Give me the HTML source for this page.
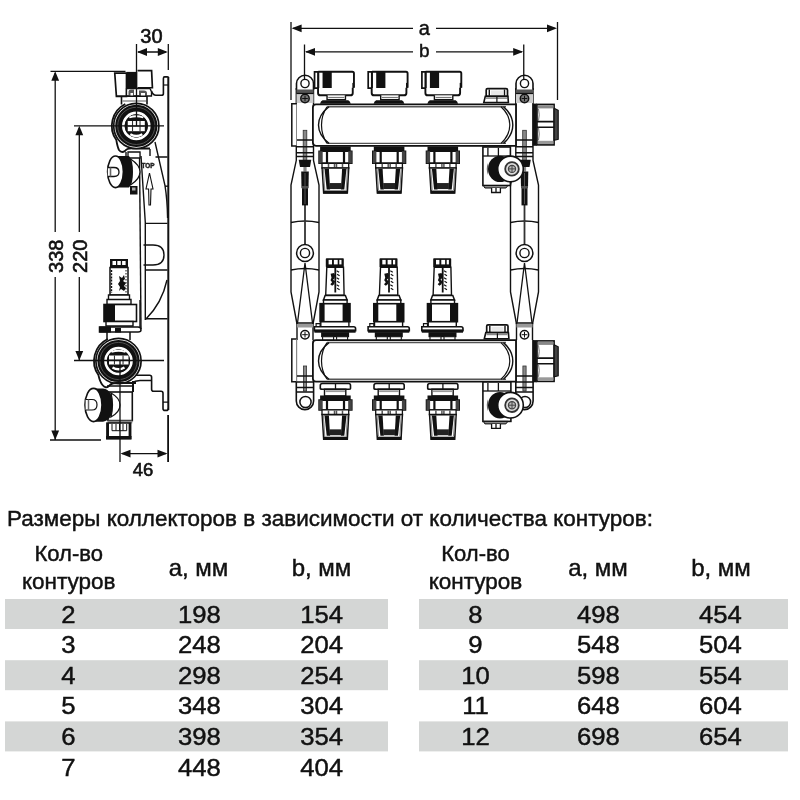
<!DOCTYPE html>
<html><head><meta charset="utf-8"><style>
html,body{margin:0;padding:0;background:#fff;}
svg{display:block;} text{stroke:#111;stroke-width:0.45px;}
</style></head><body>
<svg style="will-change:transform" width="800" height="800" viewBox="0 0 800 800">
<rect width="800" height="800" fill="#fff"/>
<rect x="5" y="599.0" width="383" height="30" fill="#d4d6d5"/>
<rect x="419" y="599.0" width="369" height="30" fill="#d4d6d5"/>
<rect x="5" y="660.2" width="383" height="30" fill="#d4d6d5"/>
<rect x="419" y="660.2" width="369" height="30" fill="#d4d6d5"/>
<rect x="5" y="721.4" width="383" height="30" fill="#d4d6d5"/>
<rect x="419" y="721.4" width="369" height="30" fill="#d4d6d5"/>
<g font-family="Liberation Sans" fill="#111">
<text x="7" y="526" font-size="22.5" textLength="646" lengthAdjust="spacingAndGlyphs">Размеры коллекторов в зависимости от количества контуров:</text>
<text x="68.7" y="561" font-size="22" text-anchor="middle">Кол-во</text>
<text x="68.7" y="589.4" font-size="22.5" text-anchor="middle">контуров</text>
<text x="198.5" y="575.8" font-size="24" text-anchor="middle">a, мм</text>
<text x="321.5" y="575.8" font-size="24" text-anchor="middle">b, мм</text>
<text x="475.5" y="561" font-size="22" text-anchor="middle">Кол-во</text>
<text x="475.5" y="589.4" font-size="22.5" text-anchor="middle">контуров</text>
<text x="598" y="575.8" font-size="24" text-anchor="middle">a, мм</text>
<text x="721" y="575.8" font-size="24" text-anchor="middle">b, мм</text>
<text x="68.5" y="622.6" font-size="24" text-anchor="middle" transform="translate(68.5 0) scale(1.07 1) translate(-68.5 0)">2</text>
<text x="199.4" y="622.6" font-size="24" text-anchor="middle" transform="translate(199.4 0) scale(1.07 1) translate(-199.4 0)">198</text>
<text x="321.6" y="622.6" font-size="24" text-anchor="middle" transform="translate(321.6 0) scale(1.07 1) translate(-321.6 0)">154</text>
<text x="68.5" y="653.2" font-size="24" text-anchor="middle" transform="translate(68.5 0) scale(1.07 1) translate(-68.5 0)">3</text>
<text x="199.4" y="653.2" font-size="24" text-anchor="middle" transform="translate(199.4 0) scale(1.07 1) translate(-199.4 0)">248</text>
<text x="321.6" y="653.2" font-size="24" text-anchor="middle" transform="translate(321.6 0) scale(1.07 1) translate(-321.6 0)">204</text>
<text x="68.5" y="683.8" font-size="24" text-anchor="middle" transform="translate(68.5 0) scale(1.07 1) translate(-68.5 0)">4</text>
<text x="199.4" y="683.8" font-size="24" text-anchor="middle" transform="translate(199.4 0) scale(1.07 1) translate(-199.4 0)">298</text>
<text x="321.6" y="683.8" font-size="24" text-anchor="middle" transform="translate(321.6 0) scale(1.07 1) translate(-321.6 0)">254</text>
<text x="68.5" y="714.4" font-size="24" text-anchor="middle" transform="translate(68.5 0) scale(1.07 1) translate(-68.5 0)">5</text>
<text x="199.4" y="714.4" font-size="24" text-anchor="middle" transform="translate(199.4 0) scale(1.07 1) translate(-199.4 0)">348</text>
<text x="321.6" y="714.4" font-size="24" text-anchor="middle" transform="translate(321.6 0) scale(1.07 1) translate(-321.6 0)">304</text>
<text x="68.5" y="745.0" font-size="24" text-anchor="middle" transform="translate(68.5 0) scale(1.07 1) translate(-68.5 0)">6</text>
<text x="199.4" y="745.0" font-size="24" text-anchor="middle" transform="translate(199.4 0) scale(1.07 1) translate(-199.4 0)">398</text>
<text x="321.6" y="745.0" font-size="24" text-anchor="middle" transform="translate(321.6 0) scale(1.07 1) translate(-321.6 0)">354</text>
<text x="68.5" y="775.6" font-size="24" text-anchor="middle" transform="translate(68.5 0) scale(1.07 1) translate(-68.5 0)">7</text>
<text x="199.4" y="775.6" font-size="24" text-anchor="middle" transform="translate(199.4 0) scale(1.07 1) translate(-199.4 0)">448</text>
<text x="321.6" y="775.6" font-size="24" text-anchor="middle" transform="translate(321.6 0) scale(1.07 1) translate(-321.6 0)">404</text>
<text x="475.5" y="622.6" font-size="24" text-anchor="middle" transform="translate(475.5 0) scale(1.07 1) translate(-475.5 0)">8</text>
<text x="598.3" y="622.6" font-size="24" text-anchor="middle" transform="translate(598.3 0) scale(1.07 1) translate(-598.3 0)">498</text>
<text x="720.4" y="622.6" font-size="24" text-anchor="middle" transform="translate(720.4 0) scale(1.07 1) translate(-720.4 0)">454</text>
<text x="475.5" y="653.2" font-size="24" text-anchor="middle" transform="translate(475.5 0) scale(1.07 1) translate(-475.5 0)">9</text>
<text x="598.3" y="653.2" font-size="24" text-anchor="middle" transform="translate(598.3 0) scale(1.07 1) translate(-598.3 0)">548</text>
<text x="720.4" y="653.2" font-size="24" text-anchor="middle" transform="translate(720.4 0) scale(1.07 1) translate(-720.4 0)">504</text>
<text x="475.5" y="683.8" font-size="24" text-anchor="middle" transform="translate(475.5 0) scale(1.07 1) translate(-475.5 0)">10</text>
<text x="598.3" y="683.8" font-size="24" text-anchor="middle" transform="translate(598.3 0) scale(1.07 1) translate(-598.3 0)">598</text>
<text x="720.4" y="683.8" font-size="24" text-anchor="middle" transform="translate(720.4 0) scale(1.07 1) translate(-720.4 0)">554</text>
<text x="475.5" y="714.4" font-size="24" text-anchor="middle" transform="translate(475.5 0) scale(1.07 1) translate(-475.5 0)">11</text>
<text x="598.3" y="714.4" font-size="24" text-anchor="middle" transform="translate(598.3 0) scale(1.07 1) translate(-598.3 0)">648</text>
<text x="720.4" y="714.4" font-size="24" text-anchor="middle" transform="translate(720.4 0) scale(1.07 1) translate(-720.4 0)">604</text>
<text x="475.5" y="745.0" font-size="24" text-anchor="middle" transform="translate(475.5 0) scale(1.07 1) translate(-475.5 0)">12</text>
<text x="598.3" y="745.0" font-size="24" text-anchor="middle" transform="translate(598.3 0) scale(1.07 1) translate(-598.3 0)">698</text>
<text x="720.4" y="745.0" font-size="24" text-anchor="middle" transform="translate(720.4 0) scale(1.07 1) translate(-720.4 0)">654</text>
</g>
<g stroke="#111" fill="none" stroke-width="2">
<path d="M168.3 77V410"/>
</g>
<path d="M168.3 77.5Q168.3 76.9 167 76.9H164.6Q163.4 76.9 163.4 78.5V93.5Q163.4 95.3 161.5 95.3H156Q153 95.3 151.5 91" fill="none" stroke="#111" stroke-width="1.6"/>
<path d="M163.4 85H168.3" stroke="#111" stroke-width="1.2"/>
<g stroke="#111" fill="none" stroke-width="1.4">
<path d="M155 142L165 185.7Q167.3 200 167.6 218"/>
<path d="M139.5 152L141 329"/>
<path d="M141 156L145.3 222.5V320"/>
<path d="M165 186.2H168"/>
<path d="M155.5 157H167.5 M145.3 223.4H167.5 M145 270H167.5 M145 318.75H167.5"/>
<path d="M143.5 245H153Q164 245 164 255Q164 265 153 265H143.5"/>
<path d="M167 280Q162 303 146 319"/>
<path d="M136 375.3H149.6Q151.6 375.3 151.6 377.3V389.3Q151.6 391.3 153.6 391.3H161Q163 391.3 163 393.3V408.4Q163 410.4 165 410.4H166.3Q168.3 410.4 168.3 408.4" stroke-width="1.6"/>
<path d="M131 383.5Q135 380.5 140 380.5H151.6 M163 402.1H168.3" stroke-width="1.3"/>
<path d="M168.3 415V462"/>
<path d="M140 300V330 M131 330H140"/>
</g>
<path d="M149.5 173L146 189H148.6L149 205H150.5L151 189H153Z" fill="#fff" stroke="#111" stroke-width="1.1"/>
<text x="148" y="168" font-family="Liberation Sans" font-size="7" font-weight="bold" text-anchor="middle" fill="#333" textLength="13" lengthAdjust="spacingAndGlyphs">TOP</text>
<path d="M114.75 73.1H126.5V96.3H116.4Z" fill="#fff" stroke="#111" stroke-width="1.7"/>
<rect x="126.5" y="71.9" width="11" height="16.7" fill="#111"/>
<path d="M137.5 70.7H151.6L152.4 87.75H137.5" fill="#fff" stroke="#111" stroke-width="1.7"/>
<path d="M126.5 88.6H150Q152 91 151.5 96H126.5Z" fill="#fff" stroke="#111" stroke-width="1.3"/>
<path d="M128.5 96V91.5Q128.5 89.5 131 89.5H134V96Z M139 96V90.5H144Q147 90.5 147 93V96Z" fill="#555"/>
<path d="M130.5 96V93H133V96Z M141 96V93H145V96Z" fill="#fff"/>
<path d="M121.5 96.3V104.5 M147 96V104.5 M116.4 96.3H147" fill="none" stroke="#111" stroke-width="1.6"/>
<path d="M122.5 101H146" fill="none" stroke="#777" stroke-width="1.2"/>
<path d="M125.3 104A24.5 24.5 0 0 0 116.3 140Q117.5 147 119 150Q121.5 153.5 125 151Q127 148 133 148.5H150" fill="none" stroke="#111" stroke-width="1.8"/>
<path d="M126 152V157 M150 149V156" fill="none" stroke="#111" stroke-width="1.4"/>
<circle cx="136.3" cy="125.9" r="22.6" fill="#fff" stroke="#111" stroke-width="1.7"/>
<circle cx="136.3" cy="125.9" r="17.7" fill="none" stroke="#111" stroke-width="6.8"/>
<circle cx="136.3" cy="125.9" r="18.6" fill="none" stroke="#555" stroke-width="0.9"/>
<circle cx="136.3" cy="125.9" r="12.4" fill="#111" stroke="#fff" stroke-width="1.6"/>
<circle cx="136.3" cy="125.9" r="11.2" fill="none" stroke="#111" stroke-width="0.8"/>
<rect x="127.75" y="121" width="17.05000000000001" height="10.199999999999989" fill="#fff"/>
<path d="M132.524 121V131.2 M140.026 121V131.2 M127.75 126.1H144.8" stroke="#333" stroke-width="1.1"/>
<path d="M129.3 117.5Q136.3 115 143.3 117.5" stroke="#fff" stroke-width="1.8" fill="none"/>
<path d="M130.3 134.2Q136.3 137.7 142.3 134.2" stroke="#fff" stroke-width="2.4" fill="none"/>
<circle cx="118.5" cy="361" r="22.6" fill="#fff" stroke="#111" stroke-width="1.7"/>
<circle cx="118.5" cy="361" r="17.7" fill="none" stroke="#111" stroke-width="6.8"/>
<circle cx="118.5" cy="361" r="18.6" fill="none" stroke="#555" stroke-width="0.9"/>
<circle cx="118.5" cy="361" r="12.4" fill="#111" stroke="#fff" stroke-width="1.6"/>
<circle cx="118.5" cy="361" r="11.2" fill="none" stroke="#111" stroke-width="0.8"/>
<rect x="109" y="355.5" width="19.5" height="9.0" fill="#fff"/>
<path d="M114.46000000000001 355.5V364.5 M123.03999999999999 355.5V364.5 M109 360.0H128.5" stroke="#333" stroke-width="1.1"/>
<path d="M111.5 352.0Q118.5 349.5 125.5 352.0" stroke="#fff" stroke-width="1.8" fill="none"/>
<path d="M112.5 367.5Q118.5 371.0 124.5 367.5" stroke="#fff" stroke-width="2.4" fill="none"/>
<path d="M128 152H140V158H128Z" fill="#fff" stroke="#111" stroke-width="1.3"/>
<path d="M130.5 159Q140 165 140 172Q140 179 130.5 185" fill="#fff" stroke="#111" stroke-width="1.3"/>
<path d="M115.5 156H129Q133 160 133 172Q133 184 129 187.6H115.5Z" fill="#111"/>
<ellipse cx="115.5" cy="171.8" rx="7.9" ry="15.8" fill="#fff" stroke="#111" stroke-width="1.6"/>
<path d="M107.8 167.5H114Q119 167.5 119 172Q119 176.5 114 176.5H107.8" fill="#fff" stroke="#111" stroke-width="1.3"/>
<path d="M110.5 167.5V176.5" stroke="#666" stroke-width="1.6"/>
<rect x="130" y="186" width="7.5" height="8.5" fill="#111"/>
<rect x="132" y="187.5" width="3.5" height="3" fill="#aaa"/>
<rect x="110" y="259" width="18" height="8.5" fill="#111"/>
<rect x="112.5" y="261" width="3.5" height="4" fill="#fff"/><rect x="117.3" y="261" width="3.5" height="4" fill="#fff"/><rect x="122.1" y="261" width="3.5" height="4" fill="#fff"/>
<path d="M110 267.5H128V295H110Z" fill="#fff" stroke="#111" stroke-width="1.5"/>
<path d="M119 276l3 2l2 -3l1 4l-2 2l3 2l-2 3l2 2l-2 3l-3 -2l-2 2l1 -4l-2 -3l2 -3z" fill="#111"/>
<path d="M111.5 270V293" stroke="#111" stroke-width="1.4" stroke-dasharray="2 1.2"/>
<path d="M126 270V293" stroke="#111" stroke-width="1" stroke-dasharray="1.5 1.5"/>
<path d="M108.5 295H129.5V299.5H108.5Z M107 299.5H131V304.5H107Z" fill="#fff" stroke="#111" stroke-width="1.4"/>
<rect x="104" y="304.5" width="32.5" height="17" fill="#fff" stroke="#111" stroke-width="1.6"/>
<rect x="104" y="304.5" width="11" height="17" fill="#111"/>
<path d="M106 321.5H133V326H106Z" fill="#fff" stroke="#111" stroke-width="1.4"/>
<path d="M99.5 327H138Q141 327 141 330Q141 332 138 332H99.5Z" fill="#fff" stroke="#111" stroke-width="1.5"/>
<rect x="99.5" y="326.5" width="11.5" height="6" fill="#111"/>
<rect x="115" y="328" width="6" height="4.5" fill="#111"/>
<path d="M107 332V340 M130 332V340" fill="none" stroke="#111" stroke-width="1.5"/>
<path d="M107.7 339A24.5 24.5 0 0 0 98.4 375Q100 382 102.5 385Q105.5 389 109 386Q111 383 116 383H136" fill="none" stroke="#111" stroke-width="1.8"/>
<path d="M133 381V392" fill="none" stroke="#111" stroke-width="2"/>
<path d="M107 386H133V392" fill="none" stroke="#111" stroke-width="1.3"/>
<rect x="108" y="392" width="24.3" height="28.6" fill="#fff" stroke="#111" stroke-width="1.6"/>
<path d="M93.5 388.5H103Q113 390 113 405Q113 420 103 421.75H93.5Z" fill="#111"/>
<path d="M111 393Q120 398 120 405Q120 412 111 417Q114 405 111 393Z" fill="#fff" stroke="#111" stroke-width="1.2"/>
<ellipse cx="93.5" cy="405" rx="8.5" ry="16.6" fill="#fff" stroke="#111" stroke-width="1.6"/>
<path d="M85.6 399.5H92Q97 399.5 97 404.7Q97 410 92 410H85.6" fill="#fff" stroke="#111" stroke-width="1.2"/>
<path d="M88.5 399.5V410" stroke="#666" stroke-width="1.5"/>
<rect x="108" y="420.6" width="24.3" height="2.8" fill="#888"/>
<path d="M107 423H130.6V438.6H107Z" fill="#fff" stroke="#111" stroke-width="1.5"/>
<rect x="106" y="436" width="25.5" height="3.5" fill="#111"/>
<rect x="106.5" y="423" width="2.5" height="14" fill="#111"/><rect x="128.6" y="423" width="2.5" height="14" fill="#111"/>
<path d="M112 424V430.7H126.7V424 M116 424V430.7 M119.5 424V430.7 M123 424V430.7" fill="none" stroke="#111" stroke-width="1"/>
<defs>
<g id="cap">
      <path d="M0.8 1H4.5V17.2H0.8Z" fill="#fff" stroke="#111" stroke-width="1.7"/>
      <path d="M4.5 0.8H38.6Q40.2 0.8 40.2 2.5V16.8 M4.5 0.8V17.2 M4.3 17.2V22Q4.3 24.4 6.7 24.4H36.6Q39 24.4 39 22V16.8" fill="#fff" stroke="#111" stroke-width="1.9"/>
      <rect x="8.8" y="0.8" width="9.2" height="16.3" fill="#111"/>
      <rect x="38.6" y="12" width="1.8" height="5" fill="#111"/>
      <path d="M13.3 24.4V28.9H31.7V24.4" fill="#fff" stroke="#111" stroke-width="1.4"/>
      <path d="M14.5 26.6H30.5" stroke="#777" stroke-width="1.2"/>
      <path d="M8.8 29.4H34.5Q36.3 30 37 32.8H6.2Q6.9 30 8.8 29.4Z" fill="#111"/>
    </g>
<g id="outlet">
      <path d="M-15.4 0.5H15.2V5.25H-15.4Z" fill="#111"/>
      <path d="M-16.4 5.25H16.3V17.25H-16.4Z" fill="#fff" stroke="#111" stroke-width="1.6"/>
      <rect x="-16.4" y="5.25" width="3.6" height="12" fill="#444"/>
      <rect x="12.7" y="5.25" width="3.6" height="12" fill="#444"/>
      <rect x="-9.6" y="5.25" width="2.2" height="12" fill="#111"/>
      <rect x="7.4" y="5.25" width="2.2" height="12" fill="#111"/>
      <path d="M-13.5 17.25H13.2V22.05H-13.5Z" fill="#fff" stroke="#111" stroke-width="1.3"/>
      <path d="M-7 17.75V21.55 M-1 17.75V21.55 M1 17.75V21.55 M7 17.75V21.55" stroke="#555" stroke-width="1.5"/>
      <path d="M-13.3 22.05H13.2L11.8 47.05H-11.8Z" fill="#fff" stroke="#111" stroke-width="1.6"/>
      <path d="M-12.2 22.650000000000002L-10.8 44.05" stroke="#888" stroke-width="1.2"/>
      <path d="M12.1 22.650000000000002L10.7 44.05" stroke="#888" stroke-width="1.2"/>
      <path d="M-11 22.85H-6.6L-5.4 43.55H-8.8Z" fill="#111"/>
      <path d="M11 22.85H6.6L5.4 43.55H8.8Z" fill="#111"/>
      <path d="M-6 37.05H6V43.05H-6Z" fill="#222"/>
      <path d="M-12.2 44.55H12V47.55H-12.2Z" fill="#111"/>
      </g>
<g id="outlet2">
      <path d="M-13 -11.5H13.2Q15 -11.5 15 -9.5V-6.5Q15 -5.7 13.2 -5.7H-13Q-15.2 -5.7 -15.2 -6.5V-9.5Q-15.2 -11.5 -13 -11.5Z" fill="#fff" stroke="#111" stroke-width="1.6"/>
      <path d="M0 -11.5V-5.7" stroke="#111" stroke-width="1.3"/>
      <path d="M-11 -5.7H10.3V1H-11Z" fill="#fff" stroke="#111" stroke-width="1.4"/>
      <path d="M-10 -3.8H9.5" stroke="#999" stroke-width="1.8"/>
      <g transform="translate(0 0) scale(1 0.98)">
      <path d="M-15.4 0.5H15.2V5.25H-15.4Z" fill="#111"/>
      <path d="M-16.4 5.25H16.3V15.25H-16.4Z" fill="#fff" stroke="#111" stroke-width="1.6"/>
      <rect x="-16.4" y="5.25" width="3.6" height="10" fill="#444"/>
      <rect x="12.7" y="5.25" width="3.6" height="10" fill="#444"/>
      <rect x="-9.6" y="5.25" width="2.2" height="10" fill="#111"/>
      <rect x="7.4" y="5.25" width="2.2" height="10" fill="#111"/>
      <path d="M-13.5 15.25H13.2V20.05H-13.5Z" fill="#fff" stroke="#111" stroke-width="1.3"/>
      <path d="M-7 15.75V19.55 M-1 15.75V19.55 M1 15.75V19.55 M7 15.75V19.55" stroke="#555" stroke-width="1.5"/>
      <path d="M-13.3 20.05H13.2L11.8 45.05H-11.8Z" fill="#fff" stroke="#111" stroke-width="1.6"/>
      <path d="M-12.2 20.650000000000002L-10.8 42.05" stroke="#888" stroke-width="1.2"/>
      <path d="M12.1 20.650000000000002L10.7 42.05" stroke="#888" stroke-width="1.2"/>
      <path d="M-11 20.85H-6.6L-5.4 41.55H-8.8Z" fill="#111"/>
      <path d="M11 20.85H6.6L5.4 41.55H8.8Z" fill="#111"/>
      <path d="M-6 35.05H6V41.05H-6Z" fill="#222"/>
      <path d="M-12.2 42.55H12V45.55H-12.2Z" fill="#111"/>
      </g>
    </g>
<g id="flow">
      <rect x="-9.3" y="0" width="18" height="9" rx="0.8" fill="#111"/>
      <rect x="-6.5" y="1.7" width="3.4" height="4.5" fill="#fff"/>
      <rect x="-1.2" y="1.7" width="3.8" height="4.5" fill="#fff"/>
      <rect x="4.2" y="1.7" width="2.2" height="4.5" fill="#fff"/>
      <path d="M-8.3 9H8.4L9 37.1H-9.4Z" fill="#fff" stroke="#111" stroke-width="1.4"/>
      <path d="M0.2 9.5V34.3" stroke="#111" stroke-width="1.8"/>
      <path d="M-4.5 15.5L-1 14.8L0 17L-0.5 20L-2 21.5L0 23L-1 26L-3 27.5L-4.8 26L-3 24L-4.6 22L-3.6 19.5Z" fill="#111"/>
      <path d="M1.5 12.5L4 14 M2 16L4.5 17.5 M1.5 19.5L4 21 M2 23L4.5 24.5 M1.5 26.5L4 28 M2 30L4.5 31.5" stroke="#111" stroke-width="1.1"/>
      <path d="M-10 37.4H10.3L12 41.8H-11.6Z" fill="#fff" stroke="#111" stroke-width="1.5"/>
      <path d="M-11.6 41.8H12V46.2H-11.6Z" fill="#fff" stroke="#111" stroke-width="1.4"/>
      <rect x="-15" y="45.5" width="29.9" height="18" fill="#fff" stroke="#111" stroke-width="1.6"/>
      <rect x="-15" y="45.5" width="4.5" height="18" fill="#111"/>
      <rect x="7.5" y="45.5" width="7.4" height="18" fill="#111"/>
      <path d="M-14.3 63.5H13.8V68.6H-14.3Z" fill="#fff" stroke="#111" stroke-width="1.4"/>
      <path d="M-19 65.5H-15V68.6H-19Z" fill="#fff" stroke="#111" stroke-width="1.2"/>
      <path d="M-20.7 68.6H18.6Q20.5 68.6 20.5 70.6V72.5H-20.7Z" fill="#fff" stroke="#111" stroke-width="1.6"/>
      <rect x="-20.7" y="71.2" width="41.2" height="3.3" fill="#111"/>
      <rect x="-14" y="74" width="28" height="5" fill="#111"/>
      <path d="M-12.5 78.5H-1.5V81.5H-12.5Z M1.5 78.5H12.5V81.5H1.5Z" fill="#fff" stroke="#111" stroke-width="1.1"/>
    </g>
<g id="bar">
      <path d="M316 0.6H516V42H316Q312.9 42 312.9 38.8V3.8Q312.9 0.6 316 0.6Z" fill="#fff" stroke="#111" stroke-width="1.8"/>
      <path d="M327 3H506" stroke="#555" stroke-width="1.5"/>
      <path d="M327 39.6H506" stroke="#555" stroke-width="1.4"/>
      <path d="M329 3Q318.5 11 318.5 21.3Q318.5 31.5 329 39.6" stroke="#111" stroke-width="1.4" fill="none"/>
      <path d="M327 3Q321.5 11 321.5 21.3Q321.5 31.5 327 39.6" stroke="#111" stroke-width="1.2" fill="none"/>
      <path d="M503.5 3Q512.8 11 512.8 21.3Q512.8 31.5 503.5 39.6" stroke="#111" stroke-width="1.4" fill="none"/>
      <path d="M501 3Q509.8 11 509.8 21.3Q509.8 31.5 501 39.6" stroke="#111" stroke-width="1.2" fill="none"/>
    </g>
<g id="nut">
      <rect x="-4.6" y="-0.2" width="4.4" height="42.2" fill="#111"/>
      <rect x="0" y="0.6" width="17.1" height="40.5" fill="#fff" stroke="#111" stroke-width="1.6"/>
      <path d="M17.1 4.5L21.2 6.5V35.5L17.1 36.5Z" fill="#444" stroke="#111" stroke-width="1.2"/>
      <rect x="0.8" y="1.4" width="15.5" height="3.2" fill="#888"/>
      <rect x="0.8" y="37" width="15.5" height="3.2" fill="#999"/>
      <path d="M0 17.8H17.1 M0 23.4H17.1" stroke="#111" stroke-width="1.6"/>
      <path d="M1.5 5Q3 11 1.5 17 M1.5 24Q3 30 1.5 36.5" stroke="#777" stroke-width="1" fill="none"/>
    </g>
<g id="vent">
      <path d="M2.5 0.6H21Q22.5 0.6 22.5 2V8.3H1.2V2Q1.2 0.6 2.5 0.6Z" fill="#fff" stroke="#111" stroke-width="1.7"/>
      <path d="M4.3 1.5V7.8 M19.5 1.5V7.8" stroke="#111" stroke-width="1.4"/>
      <rect x="6" y="2.5" width="12" height="4.5" fill="#e8e8e8"/>
      <path d="M0.3 8.3H22.9L23.4 14.5H-1.2Z" fill="#fff" stroke="#111" stroke-width="1.6"/>
      <rect x="1" y="9.3" width="21" height="1.6" fill="#888"/>
      <path d="M11.9 9V14.5" stroke="#111" stroke-width="1.2"/>
    </g>
</defs>
<g stroke="#111" fill="none" stroke-width="1.4">
<path d="M296.3 88V160.3 L291 185 V292 L297 324 M313.5 88V160.3 L319 185 V292 L313 324"/>
<path d="M291 222.5Q305 219.5 319 222.5 M291 270Q305 267 319 270"/>
<path d="M305 263L297.5 323 M305 263L312.5 323" stroke-width="1.3"/>
</g>
<path d="M305 204V245" stroke="#333" stroke-width="1.8"/>
<circle cx="305" cy="253" r="8.4" fill="#fff" stroke="#111" stroke-width="1.5"/>
<circle cx="305" cy="253" r="4.6" fill="#fff" stroke="#111" stroke-width="1.4"/>
<path d="M296.5 90V83.5A8.5 8.2 0 0 1 313.5 83.5V90" fill="#fff" stroke="#111" stroke-width="1.6"/>
<circle cx="305" cy="83.5" r="4.1" fill="#fff" stroke="#111" stroke-width="1.4"/>
<path d="M296.5 91H313.5" stroke="#111" stroke-width="1.2"/>
<rect x="296.5" y="93.5" width="17" height="9.5" fill="#ccc"/>
<rect x="296.5" y="89.5" width="17" height="4" fill="#555"/>
<path d="M296.5 93.5H313.5" stroke="#111" stroke-width="1.2"/>
<circle cx="305" cy="98.5" r="4.2" fill="#777" stroke="#111" stroke-width="1.5"/>
<path d="M302.2 98.5H307.8 M305 95.7V101.3" stroke="#111" stroke-width="1"/>
<rect x="303.2" y="130.3" width="3.6" height="30" fill="#888" stroke="#333" stroke-width="0.8"/>
<path d="M296.3 140H313.5 M296.3 146.7H313.5 M296.3 152.7H313.5 M296.3 156.5H313.5" stroke="#111" stroke-width="1.4"/>
<path d="M298.7 159.7H311.3L310 167H300Z" fill="#111"/>
<rect x="303.4" y="167" width="3.2" height="4.6" fill="#888"/>
<path d="M301.2 171.6H308.8L308.5 188.2H301.5Z" fill="#111"/>
<path d="M302 188.2H308V205.4H302Z" fill="#111"/>
<path d="M301.5 187H308.5" stroke="#777" stroke-width="1.2"/>
<path d="M305 173V204" stroke="#555" stroke-width="1"/>
<path d="M297 323V340 M313 323V340 M297 323H313" stroke="#111" stroke-width="1.4" fill="none"/>
<rect x="297" y="324" width="16" height="3.5" fill="#999"/>
<circle cx="305" cy="334.7" r="4.2" fill="#fff" stroke="#111" stroke-width="1.5"/>
<path d="M302.2 334.7H307.8 M305 331.9V337.5" stroke="#111" stroke-width="1"/>
<path d="M296.3 340V401 A8.6 8.6 0 0 0 313.6 401V340" stroke="#111" stroke-width="1.6" fill="#fff"/>
<circle cx="305.5" cy="402" r="5.6" fill="#fff" stroke="#111" stroke-width="1.5"/>
<rect x="303.4" y="366" width="3.2" height="25" fill="#888" stroke="#333" stroke-width="0.8"/>
<path d="M296.3 376H313.6 M296.3 382H313.6 M296.3 387.5H313.6 M296.3 392H313.6" stroke="#111" stroke-width="1.3"/>
<g stroke="#111" fill="none" stroke-width="1.4">
<path d="M515.8 88V160.3 L510.5 185 V292 L516.5 324 M533.0 88V160.3 L538.5 185 V292 L532.5 324"/>
<path d="M510.5 222.5Q524.5 219.5 538.5 222.5 M510.5 270Q524.5 267 538.5 270"/>
<path d="M524.5 263L517.0 323 M524.5 263L532.0 323" stroke-width="1.3"/>
</g>
<path d="M524.5 204V245" stroke="#333" stroke-width="1.8"/>
<circle cx="524.5" cy="253" r="8.4" fill="#fff" stroke="#111" stroke-width="1.5"/>
<circle cx="524.5" cy="253" r="4.6" fill="#fff" stroke="#111" stroke-width="1.4"/>
<path d="M516.0 90V83.5A8.5 8.2 0 0 1 533.0 83.5V90" fill="#fff" stroke="#111" stroke-width="1.6"/>
<circle cx="524.5" cy="83.5" r="4.1" fill="#fff" stroke="#111" stroke-width="1.4"/>
<path d="M516.0 91H533.0" stroke="#111" stroke-width="1.2"/>
<rect x="516.0" y="93.5" width="17" height="9.5" fill="#ccc"/>
<rect x="516.0" y="89.5" width="17" height="4" fill="#555"/>
<path d="M516.0 93.5H533.0" stroke="#111" stroke-width="1.2"/>
<circle cx="524.5" cy="98.5" r="4.2" fill="#777" stroke="#111" stroke-width="1.5"/>
<path d="M521.7 98.5H527.3 M524.5 95.7V101.3" stroke="#111" stroke-width="1"/>
<rect x="522.7" y="130.3" width="3.6" height="30" fill="#888" stroke="#333" stroke-width="0.8"/>
<path d="M515.8 140H533.0 M515.8 146.7H533.0 M515.8 152.7H533.0 M515.8 156.5H533.0" stroke="#111" stroke-width="1.4"/>
<path d="M518.2 159.7H530.8L529.5 167H519.5Z" fill="#111"/>
<rect x="522.9" y="167" width="3.2" height="4.6" fill="#888"/>
<path d="M520.7 171.6H528.3L528.0 188.2H521.0Z" fill="#111"/>
<path d="M521.5 188.2H527.5V205.4H521.5Z" fill="#111"/>
<path d="M521.0 187H528.0" stroke="#777" stroke-width="1.2"/>
<path d="M524.5 173V204" stroke="#555" stroke-width="1"/>
<path d="M516.5 323V340 M532.5 323V340 M516.5 323H532.5" stroke="#111" stroke-width="1.4" fill="none"/>
<rect x="516.5" y="324" width="16" height="3.5" fill="#999"/>
<circle cx="524.5" cy="334.7" r="4.2" fill="#fff" stroke="#111" stroke-width="1.5"/>
<path d="M521.7 334.7H527.3 M524.5 331.9V337.5" stroke="#111" stroke-width="1"/>
<path d="M515.8 340V401 A8.6 8.6 0 0 0 533.1 401V340" stroke="#111" stroke-width="1.6" fill="#fff"/>
<circle cx="525.0" cy="402" r="5.6" fill="#fff" stroke="#111" stroke-width="1.5"/>
<rect x="522.9" y="366" width="3.2" height="25" fill="#888" stroke="#333" stroke-width="0.8"/>
<path d="M515.8 376H533.1 M515.8 382H533.1 M515.8 387.5H533.1 M515.8 392H533.1" stroke="#111" stroke-width="1.3"/>
<path d="M296.5 103.8H291.8V146H296.5 M296.5 339H291.8V381.8H296.5" stroke="#111" stroke-width="1.5" fill="#fff"/>
<use href="#bar" y="103.8"/>
<use href="#bar" y="339.6"/>
<use href="#cap" x="313.75" y="70.9"/>
<use href="#cap" x="367.4" y="70.9"/>
<use href="#cap" x="421.1" y="70.9"/>
<use href="#outlet" x="335.5" y="146"/>
<use href="#outlet2" x="335.5" y="395"/>
<use href="#flow" x="335.1" y="258.2"/>
<use href="#outlet" x="389.2" y="146"/>
<use href="#outlet2" x="389.2" y="395"/>
<use href="#flow" x="388.8" y="258.2"/>
<use href="#outlet" x="442.9" y="146"/>
<use href="#outlet2" x="442.9" y="395"/>
<use href="#flow" x="442.5" y="258.2"/>
<use href="#vent" x="485" y="88"/>
<use href="#vent" x="485.5" y="324.3"/>
<use href="#nut" x="537" y="103.8"/>
<use href="#nut" x="537" y="340.3"/>
<rect x="482.9" y="147" width="27.5" height="38.5" fill="#fff" stroke="#111" stroke-width="1.6"/>
<path d="M482.9 156H510.4" stroke="#111" stroke-width="1.3"/>
<path d="M487.9 148V156 M498.4 148V156" stroke="#111" stroke-width="1.3"/>
<path d="M483.4 185.5H507.9L505.9 188.0H484.9Z" fill="#888" stroke="#111" stroke-width="1"/>
<path d="M491.6 188.0V192.5H500.4V188.0 M496 188.0V192.5" fill="#fff" stroke="#111" stroke-width="1.3"/>
<ellipse cx="500.0" cy="168.9" rx="12" ry="13.2" fill="#111"/>
<path d="M488.0 162.9Q485.5 168.9 488.0 174.9" fill="#666"/>
<circle cx="510.5" cy="168.9" r="12.8" fill="#fff" stroke="#111" stroke-width="1.6"/>
<circle cx="512.0" cy="168.9" r="6.8" fill="#ddd" stroke="#333" stroke-width="1.8"/>
<circle cx="512.0" cy="168.9" r="3.6" fill="#bbb" stroke="#444" stroke-width="1.2"/>
<path d="M508.5 168.9H515.5 M512.0 165.4V172.4" stroke="#444" stroke-width="1"/>
<rect x="482.9" y="382" width="28" height="39.4" fill="#fff" stroke="#111" stroke-width="1.6"/>
<path d="M482.9 391H510.9" stroke="#111" stroke-width="1.3"/>
<path d="M487.9 383V391 M498.4 383V391" stroke="#111" stroke-width="1.3"/>
<path d="M483.4 421.4H507.9L505.9 423.9H484.9Z" fill="#888" stroke="#111" stroke-width="1"/>
<path d="M491.6 423.9V428.4H500.4V423.9 M496 423.9V428.4" fill="#fff" stroke="#111" stroke-width="1.3"/>
<ellipse cx="500.0" cy="405.2" rx="12" ry="13.2" fill="#111"/>
<path d="M488.0 399.2Q485.5 405.2 488.0 411.2" fill="#666"/>
<circle cx="510.5" cy="405.2" r="12.8" fill="#fff" stroke="#111" stroke-width="1.6"/>
<circle cx="512.0" cy="405.2" r="6.8" fill="#ddd" stroke="#333" stroke-width="1.8"/>
<circle cx="512.0" cy="405.2" r="3.6" fill="#bbb" stroke="#444" stroke-width="1.2"/>
<path d="M508.5 405.2H515.5 M512.0 401.7V408.7" stroke="#444" stroke-width="1"/>
<g stroke="#111" stroke-width="1.3" fill="none">
<path d="M291 22V100 M557.5 22V100 M304.5 44.5V80 M523.75 44.5V80"/>
<path d="M293 28.3H413 M436 28.3H555 M306 51.8H413 M436 51.8H522"/>
<path d="M136.5 44V126 M168.3 44V70 M138 52H166"/>
<path d="M50.5 71.3H125.5 M55.2 73V232 M55.2 277V440 M50 440H101"/>
<path d="M74 125.9H164 M79.3 128V232 M79.3 277V360.5 M74 360.5H164"/>
<path d="M120 360V462 M168 415V462 M122 453.6H166"/>
</g>
<path d="M291.6 28.3 L301.6 24.400000000000002 L301.6 32.2 Z" fill="#111"/><path d="M557 28.3 L547 24.400000000000002 L547 32.2 Z" fill="#111"/><path d="M305 51.8 L315 47.9 L315 55.699999999999996 Z" fill="#111"/><path d="M523.2 51.8 L513.2 47.9 L513.2 55.699999999999996 Z" fill="#111"/>
<path d="M137 52 L147 48.1 L147 55.9 Z" fill="#111"/><path d="M167.8 52 L157.8 48.1 L157.8 55.9 Z" fill="#111"/><path d="M120.5 453.6 L130.5 449.70000000000005 L130.5 457.5 Z" fill="#111"/><path d="M167.5 453.6 L157.5 449.70000000000005 L157.5 457.5 Z" fill="#111"/>
<path d="M55.2 71.2 L51.300000000000004 80.7 L59.1 80.7 Z" fill="#111"/><path d="M55.2 440 L51.300000000000004 430.5 L59.1 430.5 Z" fill="#111"/><path d="M79.3 125.8 L75.39999999999999 135.3 L83.2 135.3 Z" fill="#111"/><path d="M79.3 360.6 L75.39999999999999 351.1 L83.2 351.1 Z" fill="#111"/>
<g font-family="Liberation Sans" fill="#111">
<text x="424.3" y="34.5" font-size="20" text-anchor="middle">a</text>
<text x="424.3" y="56.8" font-size="19" text-anchor="middle">b</text>
<text x="151.4" y="42.6" font-size="20" text-anchor="middle" style="stroke-width:0.6px">30</text>
<text x="143" y="475.5" font-size="18.5" text-anchor="middle" style="stroke-width:0.6px">46</text>
<text transform="translate(63.4 256.25) rotate(-90)" font-size="20" style="stroke-width:0.6px" text-anchor="middle">338</text>
<text transform="translate(87 256.25) rotate(-90)" font-size="20" style="stroke-width:0.6px" text-anchor="middle">220</text>
</g>
</svg>
</body></html>
